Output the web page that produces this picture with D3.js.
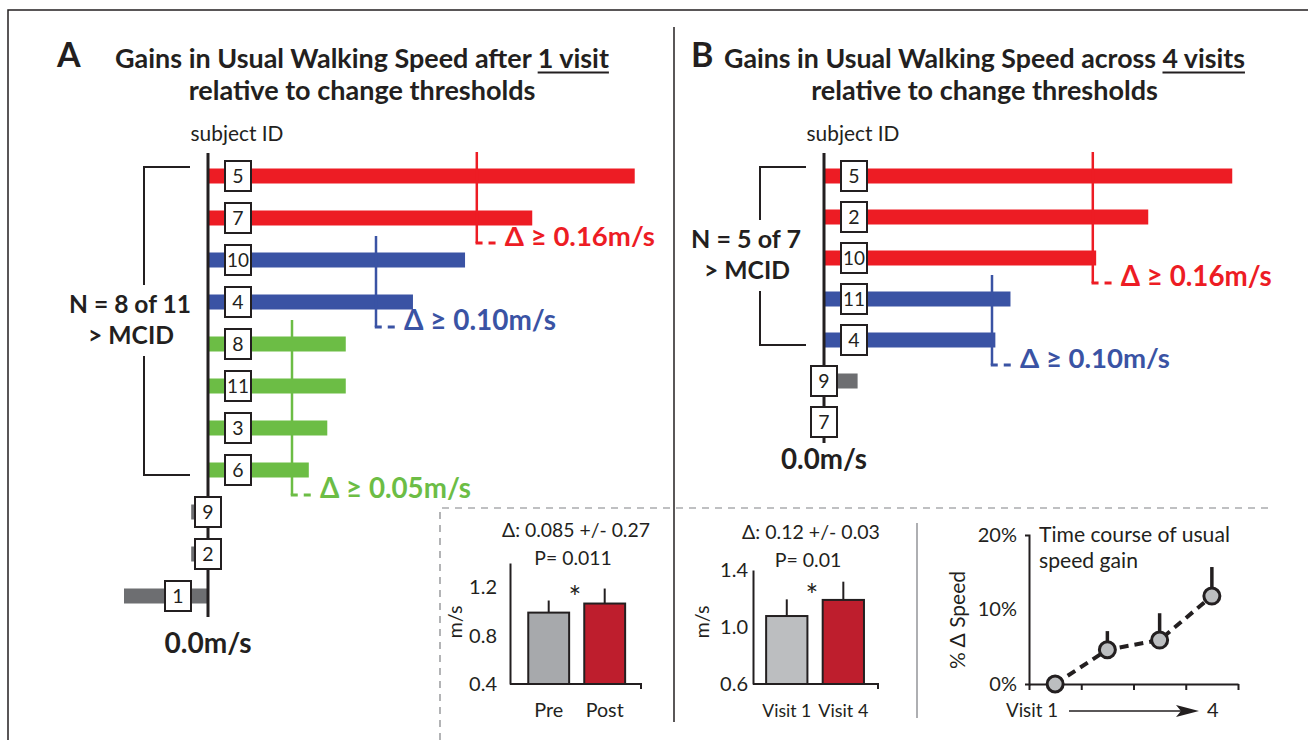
<!DOCTYPE html>
<html>
<head>
<meta charset="utf-8">
<script src="https://cdn.jsdelivr.net/npm/d3@7"></script>
<style>
body { margin: 0; background: #fff; }
svg { display: block; }
</style>
</head>
<body>
<div id="chart"></div>
<script>
// panel A: usual speed gain after 1 visit (m/s), subjects top to bottom
const idsA = ["5", "7", "10", "4", "8", "11", "3", "6", "9", "2", "1"];
const gainA = [0.254, 0.193, 0.153, 0.122, 0.082, 0.082, 0.071, 0.060, -0.010, -0.010, -0.050];
const thrA = [0.05, 0.10, 0.16];

// panel B: gain across 4 visits
const idsB = ["5", "2", "10", "11", "4", "9", "7"];
const gainB = [0.243, 0.193, 0.162, 0.111, 0.102, 0.020, 0.0];
const thrB = [0.10, 0.16];

// inset bar charts
const ppCats = ["Pre", "Post"];
const ppMean = [0.99, 1.065];
const ppErr = [0.10, 0.124];
const ppTicks = [0.4, 0.8, 1.2];

const vCats = ["Visit 1", "Visit 4"];
const vMean = [1.077, 1.19];
const vErr = [0.117, 0.128];
const vTicks = [0.6, 1.0, 1.4];

// time course, % change in speed
const tcVisits = [1, 2, 3, 4];
const tcGain = [0, 4.6, 5.9, 11.8];
const tcErr = [0, 2.5, 3.6, 3.9];
const tcTicks = [0, 10, 20];

const RED = "#ed1c24", BLUE = "#3a53a4", GREEN = "#6cbd45", GRAY = "#6d6e71", INK = "#231f20";
const FONT = "Lato, 'Open Sans', 'DejaVu Sans', sans-serif";

const svg = d3.select("#chart").append("svg")
    .attr("width", 1308)
    .attr("height", 740);

function txt(g, s, x, y, size, weight, anchor){
    return g.append("text")
        .attr("x", x).attr("y", y)
        .attr("font-family", FONT)
        .attr("font-size", size)
        .attr("font-weight", weight || "normal")
        .attr("text-anchor", anchor || "middle")
        .attr("fill", INK)
        .text(s);
}

// scale font so the text takes the width it has in the figure
function fit(sel, w){
    sel.each(function(){
        let len = this.getComputedTextLength();
        let fs = parseFloat(this.getAttribute("font-size"));
        if(len > 0) this.setAttribute("font-size", fs * w / len);
    });
    return sel;
}

// frame and separators
svg.append("path").attr("d", "M8,740V10H1308")
    .attr("fill", "none").attr("stroke", INK).attr("stroke-width", 1.5);
svg.append("path").attr("d", "M674,27V722")
    .attr("fill", "none").attr("stroke", INK).attr("stroke-width", 1.5);
svg.append("path").attr("d", "M440,740V508H1273")
    .attr("fill", "none").attr("stroke", "#808285").attr("stroke-width", 1.2)
    .attr("stroke-dasharray", "7,6");
svg.append("path").attr("d", "M917,523V718")
    .attr("fill", "none").attr("stroke", "#939598").attr("stroke-width", 1.5);

function drawPanel(p){
    let g = svg.append("g");
    let x = d3.scaleLinear().domain([0, 0.1]).range([p.x0, p.x0 + 168]);
    let y = d3.scalePoint().domain(p.ids).range([176, p.yLast]);
    let color = d3.scaleThreshold().domain(p.thr).range([GRAY].concat(p.colors));
    let rows = p.ids.map(function(id, i){ return {id: id, v: p.gains[i]}; });
    let bh = 15;

    // titles
    txt(g, p.letter, p.letterX, 67, 34, "bold", "start");
    let t1 = fit(txt(g, p.t1, p.cx, 68, 23, "bold"), p.w1);
    fit(txt(g, p.t2, p.cx, 100, 23, "bold"), p.w2);
    let node = t1.node();
    let i0 = p.t1.indexOf(p.ul);
    let ux0 = node.getStartPositionOfChar(i0).x;
    let ux1 = node.getEndPositionOfChar(i0 + p.ul.length - 1).x;
    g.append("line").attr("x1", ux0).attr("x2", ux1).attr("y1", 72.5).attr("y2", 72.5)
        .attr("stroke", INK).attr("stroke-width", 2);

    fit(txt(g, "subject ID", p.x0 + 29, 141, 19), 93);

    g.selectAll(".bar").data(rows).enter().append("rect")
        .attr("x", function(d){ return x(Math.min(0, d.v)); })
        .attr("width", function(d){ return Math.abs(x(d.v) - x(0)); })
        .attr("y", function(d){ return y(d.id) - bh / 2; })
        .attr("height", bh)
        .attr("fill", function(d){ return color(d.v); });

    // threshold markers
    p.thr.forEach(function(t, k){
        let grp = rows.filter(function(d){ return color(d.v) === color(t); });
        let xt = x(t);
        let top = y(grp[0].id) - 24;
        let bot = y(grp[grp.length - 1].id) + 25;
        g.append("path").attr("d", "M" + xt + "," + top + "V" + bot)
            .attr("fill", "none").attr("stroke", color(t)).attr("stroke-width", 2.5);
        g.append("path").attr("d", "M" + (xt - 1.25) + "," + bot + "H" + (xt + 20))
            .attr("fill", "none").attr("stroke", color(t)).attr("stroke-width", 2.8)
            .attr("stroke-dasharray", "7,6");
        fit(txt(g, "\u0394 \u2265 " + t.toFixed(2) + "m/s", xt + 28, bot + 3, 26, "bold", "start")
            .attr("fill", color(t)), p.thrW[k]);
    });

    // zero axis
    g.append("line").attr("x1", p.x0).attr("x2", p.x0)
        .attr("y1", 153).attr("y2", p.axisEnd)
        .attr("stroke", INK).attr("stroke-width", 3);
    fit(txt(g, "0.0m/s", p.x0, p.zeroY, 26, "bold"), p.zeroW);

    // subject boxes
    let bx = function(d){
        if(d.v > 0.03) return p.x0 + 17;
        if(d.v < -0.03) return p.x0 - 43;
        return p.x0 - 13;
    };
    let box = g.selectAll(".box").data(rows).enter().append("g");
    box.append("rect")
        .attr("x", bx)
        .attr("y", function(d){ return y(d.id) - 15; })
        .attr("width", 26).attr("height", 30)
        .attr("fill", "#fff").attr("stroke", INK).attr("stroke-width", 2);
    box.append("text")
        .attr("x", function(d){ return bx(d) + 13; })
        .attr("y", function(d){ return y(d.id) + 7; })
        .attr("text-anchor", "middle")
        .attr("font-family", FONT).attr("font-size", 19.5).attr("fill", INK)
        .attr("textLength", function(d){ return d.id.length > 1 ? 22 : null; })
        .attr("lengthAdjust", "spacingAndGlyphs")
        .text(function(d){ return d.id; });

    // MCID bracket
    let mc = rows.filter(function(d){ return d.v >= p.thr[0]; });
    let top = y(mc[0].id) - 9;
    let bot = y(mc[mc.length - 1].id) + 5;
    let mid = (top + bot) / 2;
    let xr = p.x0 - 18, xl = p.x0 - 64;
    g.append("path")
        .attr("d", "M" + xr + "," + top + "H" + xl + "V" + (mid - 36) +
            "M" + xl + "," + (mid + 35) + "V" + bot + "H" + xr)
        .attr("fill", "none").attr("stroke", INK).attr("stroke-width", 2);
    fit(txt(g, "N = " + mc.length + " of " + rows.length, p.x0 - 78, mid - 8, 25, "bold"), p.nW);
    fit(txt(g, "> MCID", p.x0 - 77, mid + 23, 25, "bold"), 86);
}

drawPanel({
    ids: idsA, gains: gainA, thr: thrA, colors: [GREEN, BLUE, RED],
    x0: 208, yLast: 596, axisEnd: 617, zeroY: 653, zeroW: 87,
    letter: "A", letterX: 57, cx: 362,
    t1: "Gains in Usual Walking Speed after 1 visit", ul: "1 visit", w1: 494,
    t2: "relative to change thresholds", w2: 347,
    thrW: [151, 152, 150], nW: 122
});

drawPanel({
    ids: idsB, gains: gainB, thr: thrB, colors: [BLUE, RED],
    x0: 824, yLast: 422, axisEnd: 443, zeroY: 469, zeroW: 86,
    letter: "B", letterX: 691, cx: 984.5,
    t1: "Gains in Usual Walking Speed across 4 visits", ul: "4 visits", w1: 521,
    t2: "relative to change thresholds", w2: 347,
    thrW: [150, 151], nW: 110
});

function barInset(o){
    let g = svg.append("g");
    let y = d3.scaleLinear().domain(o.domain).range(o.yRange);
    let x = d3.scaleBand().domain(o.cats).range(o.band).paddingInner(0.27).paddingOuter(0.135);
    let y0 = y(o.domain[0]);

    let ax = g.append("g").attr("transform", "translate(" + o.axisX + ",0)")
        .call(d3.axisLeft(y).tickValues(o.ticks).tickSize(0).tickSizeOuter(0)
            .tickPadding(o.pad).tickFormat(d3.format(".1f")));
    ax.select(".domain").attr("stroke", INK).attr("stroke-width", 2);
    ax.selectAll("text").attr("font-family", FONT).attr("font-size", 20).attr("fill", INK);

    g.append("path").attr("d", "M" + o.axisX + "," + y0 + "H" + o.xEnd + "V" + (y0 + 5))
        .attr("fill", "none").attr("stroke", INK).attr("stroke-width", 2);

    let rows = o.cats.map(function(c, i){ return {c: c, m: o.mean[i], e: o.err[i], f: o.fills[i]}; });
    g.selectAll(".err").data(rows).enter().append("line")
        .attr("x1", function(d){ return x(d.c) + x.bandwidth() / 2; })
        .attr("x2", function(d){ return x(d.c) + x.bandwidth() / 2; })
        .attr("y1", function(d){ return y(d.m); })
        .attr("y2", function(d){ return y(d.m + d.e); })
        .attr("stroke", INK).attr("stroke-width", 2);
    g.selectAll(".bar").data(rows).enter().append("rect")
        .attr("x", function(d){ return x(d.c); })
        .attr("width", x.bandwidth())
        .attr("y", function(d){ return y(d.m); })
        .attr("height", function(d){ return y0 - y(d.m); })
        .attr("fill", function(d){ return d.f; })
        .attr("stroke", INK).attr("stroke-width", 2);
    rows.forEach(function(d, i){
        fit(txt(g, d.c, x(d.c) + x.bandwidth() / 2, 717, 19), o.catW[i]);
    });

    let s1 = fit(txt(g, o.stat, o.statX, o.statY, 19), o.statW);
    txt(g, o.p, o.statX - 3, o.statY + 28, 19).attr("font-size", s1.attr("font-size"));
    txt(g, "*", o.starX, o.starY, 30);
    fit(txt(g, "m/s", 0, 0, 20), 33)
        .attr("transform", "translate(" + o.msX + ",622) rotate(-90)")
        .attr("dy", "0.35em");
}

barInset({
    cats: ppCats, mean: ppMean, err: ppErr, ticks: ppTicks, fills: ["#a7a9ac", "#be1e2d"],
    domain: [0.4, 1.4], yRange: [684, 563], band: [520.7, 632.7],
    axisX: 510, xEnd: 641, pad: 13, catW: [29, 38],
    stat: "\u0394: 0.085 +/- 0.27", p: "P= 0.011", statX: 576, statY: 537, statW: 148,
    starX: 575, starY: 608, msX: 455
});

barInset({
    cats: vCats, mean: vMean, err: vErr, ticks: vTicks, fills: ["#bcbec0", "#be1e2d"],
    domain: [0.6, 1.4], yRange: [684, 570], band: [758.5, 871.6],
    axisX: 753, xEnd: 878, pad: 5, catW: [49, 50],
    stat: "\u0394: 0.12 +/- 0.03", p: "P= 0.01", statX: 811, statY: 539, statW: 138,
    starX: 812, starY: 606, msX: 702
});

// time course inset
(function(){
    let g = svg.append("g");
    let y = d3.scaleLinear().domain([0, 20]).range([684, 535]);
    let x = d3.scaleBand().domain(tcVisits).range([1029, 1238]);
    let edges = d3.scaleLinear().domain([0, tcVisits.length]).range(x.range());

    let ay = g.append("g").attr("transform", "translate(1029,0)")
        .call(d3.axisLeft(y).tickValues(tcTicks).tickSizeInner(0).tickSizeOuter(4)
            .tickPadding(12).tickFormat(function(d){ return d + "%"; }));
    ay.select(".domain").attr("stroke", INK).attr("stroke-width", 2);
    ay.selectAll("text").attr("font-family", FONT).attr("font-size", 20).attr("fill", INK);

    let axb = g.append("g").attr("transform", "translate(0,684)")
        .call(d3.axisBottom(edges).tickValues(d3.range(tcVisits.length + 1))
            .tickSize(6).tickSizeOuter(0).tickFormat(""));
    axb.select(".domain").attr("stroke", INK).attr("stroke-width", 2);
    axb.selectAll(".tick line").attr("stroke", INK).attr("stroke-width", 2);

    let pts = tcVisits.map(function(v, i){ return {v: v, m: tcGain[i], e: tcErr[i]}; });
    let cx = function(d){ return x(d.v) + x.bandwidth() / 2; };

    g.selectAll(".err").data(pts.filter(function(d){ return d.e > 0; })).enter().append("line")
        .attr("x1", cx).attr("x2", cx)
        .attr("y1", function(d){ return y(d.m); })
        .attr("y2", function(d){ return y(d.m + d.e); })
        .attr("stroke", INK).attr("stroke-width", 3.5);

    let line = d3.line().x(cx).y(function(d){ return y(d.m); });
    g.append("path").datum(pts).attr("d", line)
        .attr("fill", "none").attr("stroke", INK).attr("stroke-width", 4)
        .attr("stroke-dasharray", "9,6");

    g.selectAll("circle").data(pts).enter().append("circle")
        .attr("cx", cx).attr("cy", function(d){ return y(d.m); })
        .attr("r", 8)
        .attr("fill", "#bcbec0").attr("stroke", INK).attr("stroke-width", 3);

    let tt = fit(txt(g, "Time course of usual", 1039, 542, 20, "normal", "start"), 191);
    txt(g, "speed gain", 1039, 568, 20, "normal", "start").attr("font-size", tt.attr("font-size"));
    fit(txt(g, "% \u0394 Speed", 0, 0, 20), 98)
        .attr("transform", "translate(958,620) rotate(-90)")
        .attr("dy", "0.35em");

    fit(txt(g, "Visit 1", 1006, 717, 19, "normal", "start"), 52);
    txt(g, "4", 1207, 717, 20, "normal", "start");
    g.append("line").attr("x1", 1069).attr("x2", 1185).attr("y1", 711).attr("y2", 711)
        .attr("stroke", INK).attr("stroke-width", 1.5);
    g.append("path").attr("d", "M1176,705L1199,711L1176,717L1181,711Z").attr("fill", INK);
})();
</script>
</body>
</html>
